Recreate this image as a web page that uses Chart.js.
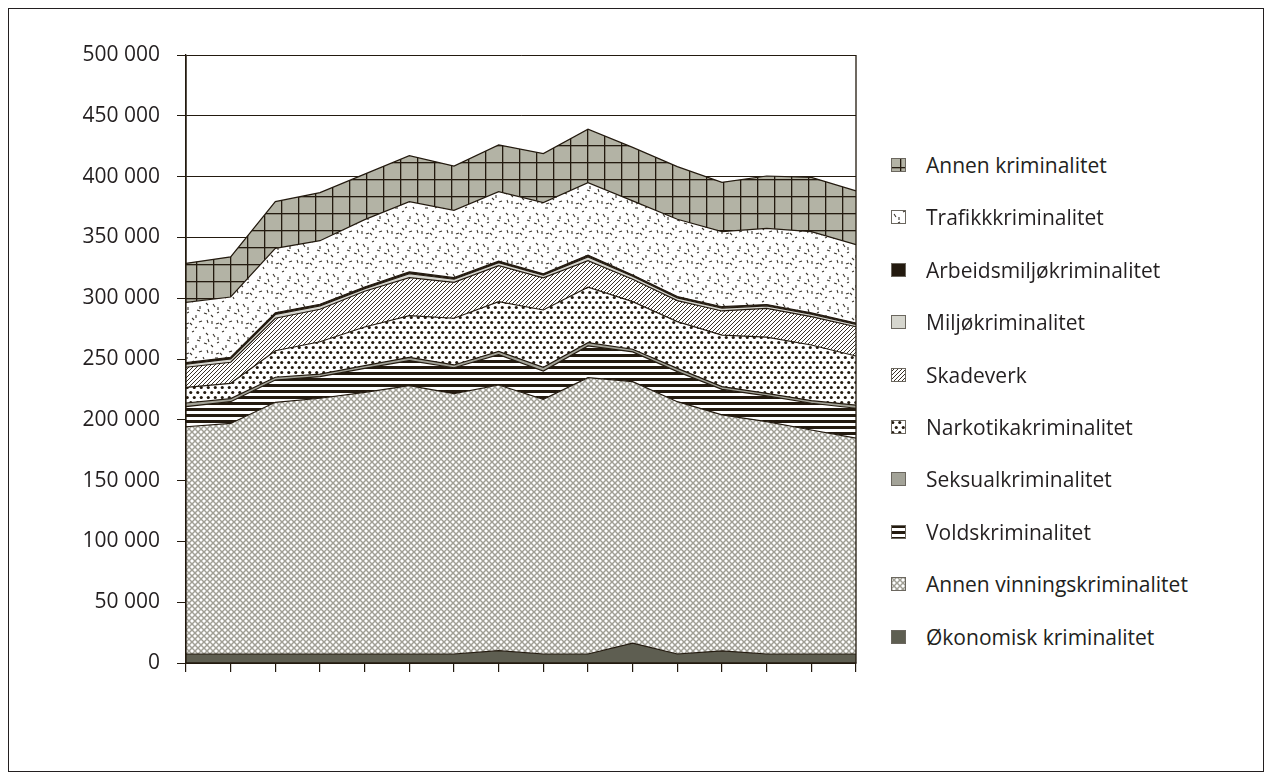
<!DOCTYPE html>
<html lang="no">
<head>
<meta charset="utf-8">
<script src="https://cdn.jsdelivr.net/npm/chart.js@4.4.1/dist/chart.umd.min.js"></script>
<style>
  body { margin: 0; background: #fff; }
  #ramme { position: absolute; left: 8px; top: 8px; width: 1254px; height: 762px; border: 1px solid #231f20; }
  #graf { position: absolute; left: 0; top: 0; }
  #forklaring { font-family: 'Open Sans', sans-serif; font-size: 21px; color: #231f20; }
  .post { position: absolute; left: 891px; height: 30px; display: flex; align-items: center; white-space: nowrap; }
  .post canvas { margin-right: 20px; }
</style>
</head>
<body>
<div id="ramme"></div>
<canvas id="graf" width="870" height="700"></canvas>
<div id="forklaring"></div>
<script>
// Årstall (vises ikke på aksen i originalen)
const aar = ["1993", "1994", "1995", "1996", "1997", "1998", "1999", "2000",
             "2001", "2002", "2003", "2004", "2005", "2006", "2007", "2008"];

// Anmeldte lovbrudd per kategori (lest av figuren)
const okonomisk = [7400, 7400, 7400, 7400, 7400, 7400, 7400, 10100, 7400, 7400, 16400, 7400, 10000, 7400, 7400, 7400];
const annenVinning = [186900, 189600, 207000, 210300, 215200, 220700, 214100, 218500, 209400, 227300, 215000, 207500, 194000, 191100, 184200, 177600];
const vold = [16500, 17900, 18300, 17800, 19700, 20600, 21300, 25000, 23300, 26000, 24400, 24700, 21000, 21100, 22000, 24500];
const seksual = [3000, 2500, 2300, 2100, 2200, 2700, 2300, 2700, 3100, 2700, 2200, 2700, 2300, 2200, 2100, 2500];
const narkotika = [12900, 12600, 21800, 26600, 31800, 34200, 38400, 40900, 47100, 45600, 39200, 38400, 42400, 46200, 45800, 40500];
const skadeverk = [16500, 17300, 26700, 26700, 29400, 31300, 29600, 29600, 26500, 21900, 18400, 17300, 19800, 23700, 23300, 24000];
const miljo = [2500, 2800, 3100, 2800, 2200, 3200, 2500, 2400, 2200, 3100, 2400, 2300, 2400, 2000, 2000, 2000];
const arbeidsmiljo = [1300, 1300, 1400, 1300, 1300, 1500, 1300, 1200, 1100, 1300, 1100, 1100, 1100, 1100, 1100, 1100];
const trafikk = [49600, 49600, 53000, 52300, 55400, 57800, 55400, 57200, 58500, 59700, 60900, 63500, 61700, 62700, 66800, 64400];
const annenKrim = [32100, 33000, 38400, 39500, 37400, 37800, 36400, 38400, 40400, 44000, 44000, 43300, 40600, 43000, 44700, 44200];

const MORK = "#231a0f";
const ctx = document.getElementById("graf").getContext("2d");

// Lager et fyllmønster fra en liten flis
function monster(b, h, tegn) {
  const c = document.createElement("canvas");
  c.width = b; c.height = h;
  const g = c.getContext("2d");
  tegn(g);
  return ctx.createPattern(c, "repeat");
}

const ruter = monster(17, 17, g => {
  g.fillStyle = "#b3b3a5"; g.fillRect(0, 0, 17, 17);
  g.fillStyle = MORK; g.fillRect(9, 0, 1.3, 17); g.fillRect(0, 9, 17, 1.3);
});

const streker = [[3,4,5,7],[12,2,14,1],[20,6,20,9],[26,3,28,5],[7,13,9,12],[16,15,16,18],[24,13,27,14],
                 [2,21,2,24],[10,23,12,25],[19,22,22,21],[27,20,28,23],[5,28,8,28],[15,28,17,27],[23,27,24,29],
                 [8,7,8,10],[17,10,20,11],[1,15,3,17],[12,18,14,20],[28,9,29,12],[6,24,9,23]];
const prikkestrek = monster(30, 30, g => {
  g.fillStyle = "#fff"; g.fillRect(0, 0, 30, 30);
  g.strokeStyle = "#3a342c"; g.lineWidth = 1.1;
  streker.forEach(s => { g.beginPath(); g.moveTo(s[0], s[1]); g.lineTo(s[2], s[3]); g.stroke(); });
});

const skravur = monster(4, 4, g => {
  g.fillStyle = "#fff"; g.fillRect(0, 0, 4, 4);
  g.strokeStyle = MORK; g.lineWidth = 0.9;
  g.beginPath();
  g.moveTo(-1, 5); g.lineTo(5, -1);
  g.moveTo(-1, 1); g.lineTo(1, -1);
  g.moveTo(3, 5); g.lineTo(5, 3);
  g.stroke();
});

const prikker = monster(7, 10, g => {
  g.fillStyle = "#fff"; g.fillRect(0, 0, 7, 10);
  g.fillStyle = MORK;
  [[1.75, 2.5], [5.25, 7.5]].forEach(p => { g.beginPath(); g.arc(p[0], p[1], 1.55, 0, Math.PI * 2); g.fill(); });
});

const striper = monster(6, 6, g => {
  g.fillStyle = "#fff"; g.fillRect(0, 0, 6, 6);
  g.fillStyle = MORK; g.fillRect(0, 0, 6, 3);
});

const kryss = monster(6, 6, g => {
  g.fillStyle = "#fff"; g.fillRect(0, 0, 6, 6);
  g.strokeStyle = "#a09f95"; g.lineWidth = 1.5;
  g.beginPath();
  g.moveTo(0, 0); g.lineTo(6, 6);
  g.moveTo(6, 0); g.lineTo(0, 6);
  g.stroke();
});

const serier = [
  { label: "Økonomisk kriminalitet", data: okonomisk, backgroundColor: "#5e5e51" },
  { label: "Annen vinningskriminalitet", data: annenVinning, backgroundColor: kryss },
  { label: "Voldskriminalitet", data: vold, backgroundColor: striper },
  { label: "Seksualkriminalitet", data: seksual, backgroundColor: "#a3a398" },
  { label: "Narkotikakriminalitet", data: narkotika, backgroundColor: prikker },
  { label: "Skadeverk", data: skadeverk, backgroundColor: skravur },
  { label: "Miljøkriminalitet", data: miljo, backgroundColor: "#d6d6ce" },
  { label: "Arbeidsmiljøkriminalitet", data: arbeidsmiljo, backgroundColor: MORK },
  { label: "Trafikkkriminalitet", data: trafikk, backgroundColor: prikkestrek },
  { label: "Annen kriminalitet", data: annenKrim, backgroundColor: ruter }
];

// Ramme rundt plottet
const plottKant = {
  id: "plottKant",
  afterDatasetsDraw(chart) {
    const { ctx: c, chartArea: a } = chart;
    c.save();
    c.strokeStyle = MORK; c.lineWidth = 1.3;
    c.beginPath();
    c.moveTo(a.left, a.top); c.lineTo(a.left, a.bottom); c.lineTo(a.right, a.bottom); c.lineTo(a.right, a.top);
    c.stroke();
    c.restore();
  }
};

Chart.defaults.font.family = "'Open Sans', sans-serif";
Chart.defaults.font.size = 21;
Chart.defaults.color = "#231f20";

new Chart(ctx, {
  type: "line",
  data: {
    labels: aar,
    datasets: serier.map((s, i) => ({
      ...s,
      fill: i === 0 ? "origin" : "-1",
      borderColor: MORK,
      borderWidth: 1.2,
      tension: 0,
      pointRadius: 0
    }))
  },
  options: {
    responsive: false,
    animation: false,
    layout: { padding: { top: 55, right: 14, bottom: 0, left: 0 } },
    plugins: { legend: { display: false }, tooltip: { enabled: false } },
    scales: {
      x: {
        offset: false,
        ticks: { display: false },
        grid: { drawOnChartArea: false, drawTicks: true, tickLength: 9, color: MORK, lineWidth: 1.2 },
        border: { color: MORK, width: 1.3 },
        afterFit: s => { s.height = 37; }
      },
      y: {
        stacked: true,
        min: 0,
        max: 500000,
        ticks: {
          stepSize: 50000,
          padding: 17,
          callback: v => String(v).replace(/\B(?=(\d{3})+(?!\d))/g, " ")
        },
        grid: { color: MORK, lineWidth: 1, tickLength: 9 },
        border: { color: MORK, width: 1.3 },
        afterFit: s => { s.width = 186; }
      }
    }
  },
  plugins: [plottKant]
});

// Forklaring til høyre, øverste serie først
const forklaring = document.getElementById("forklaring");
serier.slice().reverse().forEach((s, k) => {
  const post = document.createElement("div");
  post.className = "post";
  post.style.top = (165 + k * 52.4 - 15) + "px";
  const rute = document.createElement("canvas");
  rute.width = 15; rute.height = 14;
  const g = rute.getContext("2d");
  g.fillStyle = s.backgroundColor;
  g.fillRect(0, 0, 15, 14);
  g.strokeStyle = "#6b675f"; g.lineWidth = 1;
  g.strokeRect(0.5, 0.5, 14, 13);
  const tekst = document.createElement("span");
  tekst.textContent = s.label;
  post.appendChild(rute);
  post.appendChild(tekst);
  forklaring.appendChild(post);
});
</script>
</body>
</html>
